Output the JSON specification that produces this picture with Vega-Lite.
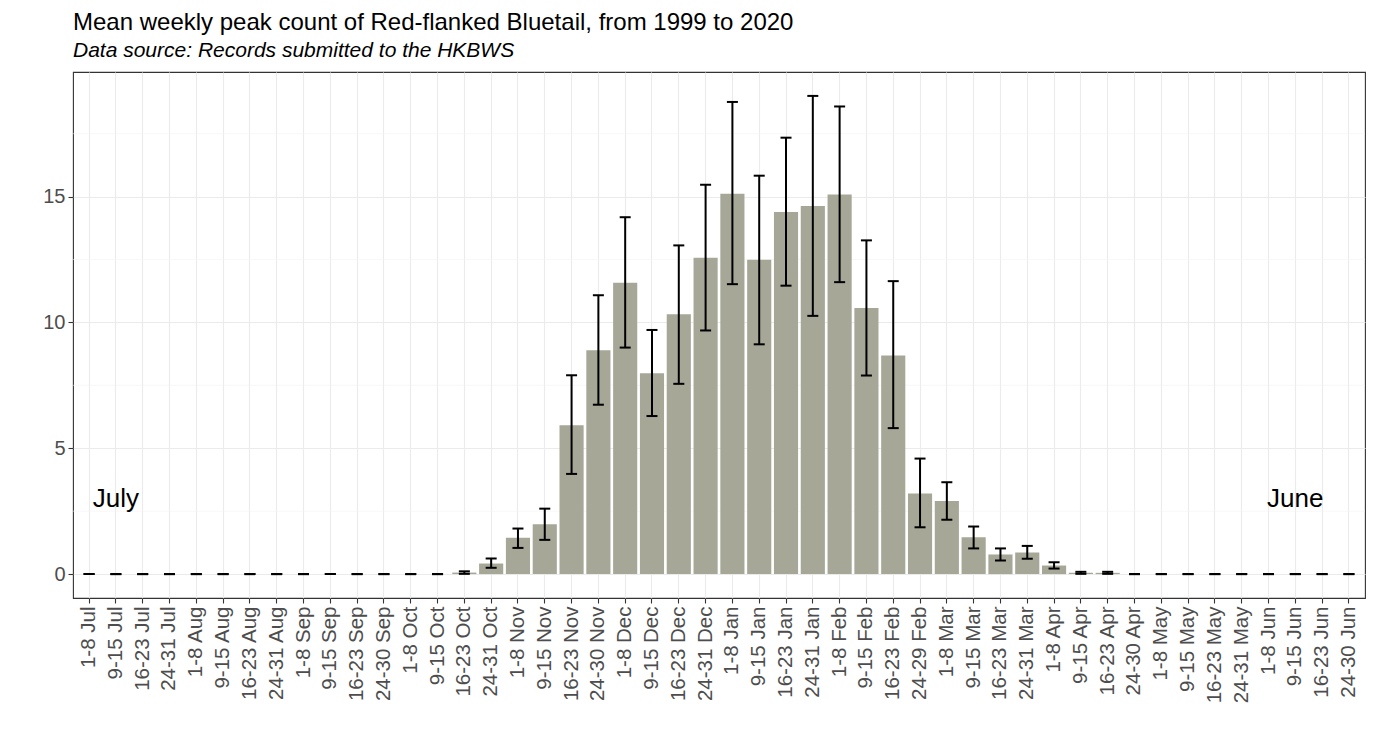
{
  "$schema": "https://vega.github.io/schema/vega-lite/v6.json",
  "autosize": {"type": "none"},
  "padding": {"left": 73, "top": 72, "right": 12, "bottom": 154},
  "width": 1292,
  "height": 526,
  "background": "white",
  "title": {
    "text": "Mean weekly peak count of Red-flanked Bluetail, from 1999 to 2020",
    "subtitle": "Data source: Records submitted to the HKBWS",
    "anchor": "start",
    "frame": "group",
    "font": "Liberation Sans",
    "fontSize": 24,
    "fontWeight": "normal",
    "color": "#000000",
    "subtitleFont": "Liberation Sans",
    "subtitleFontSize": 21,
    "subtitleFontStyle": "italic",
    "subtitleColor": "#000000",
    "subtitlePadding": 5,
    "offset": 11
  },
  "datasets": {
    "weeks": [
      {"week": "1-8 Jul", "mean": 0, "lo": 0, "hi": 0},
      {"week": "9-15 Jul", "mean": 0, "lo": 0, "hi": 0},
      {"week": "16-23 Jul", "mean": 0, "lo": 0, "hi": 0},
      {"week": "24-31 Jul", "mean": 0, "lo": 0, "hi": 0},
      {"week": "1-8 Aug", "mean": 0, "lo": 0, "hi": 0},
      {"week": "9-15 Aug", "mean": 0, "lo": 0, "hi": 0},
      {"week": "16-23 Aug", "mean": 0, "lo": 0, "hi": 0},
      {"week": "24-31 Aug", "mean": 0, "lo": 0, "hi": 0},
      {"week": "1-8 Sep", "mean": 0, "lo": 0, "hi": 0},
      {"week": "9-15 Sep", "mean": 0, "lo": 0, "hi": 0},
      {"week": "16-23 Sep", "mean": 0, "lo": 0, "hi": 0},
      {"week": "24-30 Sep", "mean": 0, "lo": 0, "hi": 0},
      {"week": "1-8 Oct", "mean": 0, "lo": 0, "hi": 0},
      {"week": "9-15 Oct", "mean": 0, "lo": 0, "hi": 0},
      {"week": "16-23 Oct", "mean": 0.06, "lo": 0.01, "hi": 0.11},
      {"week": "24-31 Oct", "mean": 0.42, "lo": 0.25, "hi": 0.62},
      {"week": "1-8 Nov", "mean": 1.44, "lo": 1.04, "hi": 1.81},
      {"week": "9-15 Nov", "mean": 1.98, "lo": 1.36, "hi": 2.6},
      {"week": "16-23 Nov", "mean": 5.91, "lo": 3.98, "hi": 7.9},
      {"week": "24-30 Nov", "mean": 8.89, "lo": 6.73, "hi": 11.08},
      {"week": "1-8 Dec", "mean": 11.58, "lo": 9.0, "hi": 14.18},
      {"week": "9-15 Dec", "mean": 7.98, "lo": 6.28, "hi": 9.7},
      {"week": "16-23 Dec", "mean": 10.32, "lo": 7.56, "hi": 13.06},
      {"week": "24-31 Dec", "mean": 12.57, "lo": 9.68, "hi": 15.47},
      {"week": "1-8 Jan", "mean": 15.11, "lo": 11.52, "hi": 18.76},
      {"week": "9-15 Jan", "mean": 12.49, "lo": 9.13, "hi": 15.83},
      {"week": "16-23 Jan", "mean": 14.39, "lo": 11.46, "hi": 17.34},
      {"week": "24-31 Jan", "mean": 14.63, "lo": 10.26, "hi": 19.0},
      {"week": "1-8 Feb", "mean": 15.08, "lo": 11.6, "hi": 18.58},
      {"week": "9-15 Feb", "mean": 10.57, "lo": 7.89, "hi": 13.26},
      {"week": "16-23 Feb", "mean": 8.69, "lo": 5.8, "hi": 11.64},
      {"week": "24-29 Feb", "mean": 3.2, "lo": 1.86, "hi": 4.59},
      {"week": "1-8 Mar", "mean": 2.9, "lo": 2.16, "hi": 3.65},
      {"week": "9-15 Mar", "mean": 1.46, "lo": 1.02, "hi": 1.89},
      {"week": "16-23 Mar", "mean": 0.78, "lo": 0.54, "hi": 1.02},
      {"week": "24-31 Mar", "mean": 0.86, "lo": 0.61, "hi": 1.12},
      {"week": "1-8 Apr", "mean": 0.34, "lo": 0.22, "hi": 0.47},
      {"week": "9-15 Apr", "mean": 0.05, "lo": 0.01, "hi": 0.09},
      {"week": "16-23 Apr", "mean": 0.05, "lo": 0.01, "hi": 0.09},
      {"week": "24-30 Apr", "mean": 0, "lo": 0, "hi": 0},
      {"week": "1-8 May", "mean": 0, "lo": 0, "hi": 0},
      {"week": "9-15 May", "mean": 0, "lo": 0, "hi": 0},
      {"week": "16-23 May", "mean": 0, "lo": 0, "hi": 0},
      {"week": "24-31 May", "mean": 0, "lo": 0, "hi": 0},
      {"week": "1-8 Jun", "mean": 0, "lo": 0, "hi": 0},
      {"week": "9-15 Jun", "mean": 0, "lo": 0, "hi": 0},
      {"week": "16-23 Jun", "mean": 0, "lo": 0, "hi": 0},
      {"week": "24-30 Jun", "mean": 0, "lo": 0, "hi": 0}
    ],
    "minor": [{"v": 2.5}, {"v": 7.5}, {"v": 12.5}, {"v": 17.5}],
    "notes": [
      {"week": "9-15 Jul", "y": 3, "label": "July"},
      {"week": "9-15 Jun", "y": 3, "label": "June"}
    ]
  },
  "config": {
    "font": "Liberation Sans",
    "view": {"stroke": "#333333", "strokeWidth": 1.1},
    "axis": {
      "domain": false,
      "tickColor": "#333333",
      "tickSize": 5,
      "tickWidth": 1.1,
      "labelColor": "#4d4d4d",
      "labelFont": "Liberation Sans",
      "grid": true,
      "gridColor": "#ebebeb",
      "gridWidth": 1.1,
      "title": null
    }
  },
  "encoding": {
    "x": {
      "field": "week",
      "type": "nominal",
      "scale": {
        "domain": ["1-8 Jul", "9-15 Jul", "16-23 Jul", "24-31 Jul", "1-8 Aug", "9-15 Aug", "16-23 Aug", "24-31 Aug", "1-8 Sep", "9-15 Sep", "16-23 Sep", "24-30 Sep", "1-8 Oct", "9-15 Oct", "16-23 Oct", "24-31 Oct", "1-8 Nov", "9-15 Nov", "16-23 Nov", "24-30 Nov", "1-8 Dec", "9-15 Dec", "16-23 Dec", "24-31 Dec", "1-8 Jan", "9-15 Jan", "16-23 Jan", "24-31 Jan", "1-8 Feb", "9-15 Feb", "16-23 Feb", "24-29 Feb", "1-8 Mar", "9-15 Mar", "16-23 Mar", "24-31 Mar", "1-8 Apr", "9-15 Apr", "16-23 Apr", "24-30 Apr", "1-8 May", "9-15 May", "16-23 May", "24-31 May", "1-8 Jun", "9-15 Jun", "16-23 Jun", "24-30 Jun"],
        "paddingInner": 0.1,
        "paddingOuter": 0.15
      },
      "axis": {
        "labelAngle": -90,
        "labelFontSize": 20.5,
        "labelPadding": 3,
        "bandPosition": 0.5
      }
    }
  },
  "layer": [
    {
      "data": {"name": "minor"},
      "mark": {"type": "rule", "color": "#f3f3f3", "strokeWidth": 0.6},
      "encoding": {
        "x": null,
        "y": {"field": "v", "type": "quantitative"}
      }
    },
    {
      "data": {"name": "weeks"},
      "mark": {"type": "bar", "color": "#a6a797"},
      "encoding": {
        "y": {
          "field": "mean",
          "type": "quantitative",
          "scale": {"domain": [-0.95, 19.95], "nice": false, "zero": false},
          "axis": {"values": [0, 5, 10, 15], "labelFontSize": 20, "labelPadding": 3}
        }
      }
    },
    {
      "data": {"name": "weeks"},
      "mark": {"type": "rule", "color": "#000000", "strokeWidth": 2},
      "encoding": {
        "y": {"field": "lo", "type": "quantitative"},
        "y2": {"field": "hi"}
      }
    },
    {
      "data": {"name": "weeks"},
      "mark": {"type": "tick", "color": "#000000", "size": 11, "thickness": 2, "opacity": 1},
      "encoding": {
        "y": {"field": "lo", "type": "quantitative"}
      }
    },
    {
      "data": {"name": "weeks"},
      "mark": {"type": "tick", "color": "#000000", "size": 11, "thickness": 2, "opacity": 1},
      "encoding": {
        "y": {"field": "hi", "type": "quantitative"}
      }
    },
    {
      "data": {"name": "notes"},
      "mark": {"type": "text", "fontSize": 26, "color": "#000000", "align": "center", "baseline": "middle"},
      "encoding": {
        "y": {"field": "y", "type": "quantitative"},
        "text": {"field": "label"}
      }
    }
  ]
}
